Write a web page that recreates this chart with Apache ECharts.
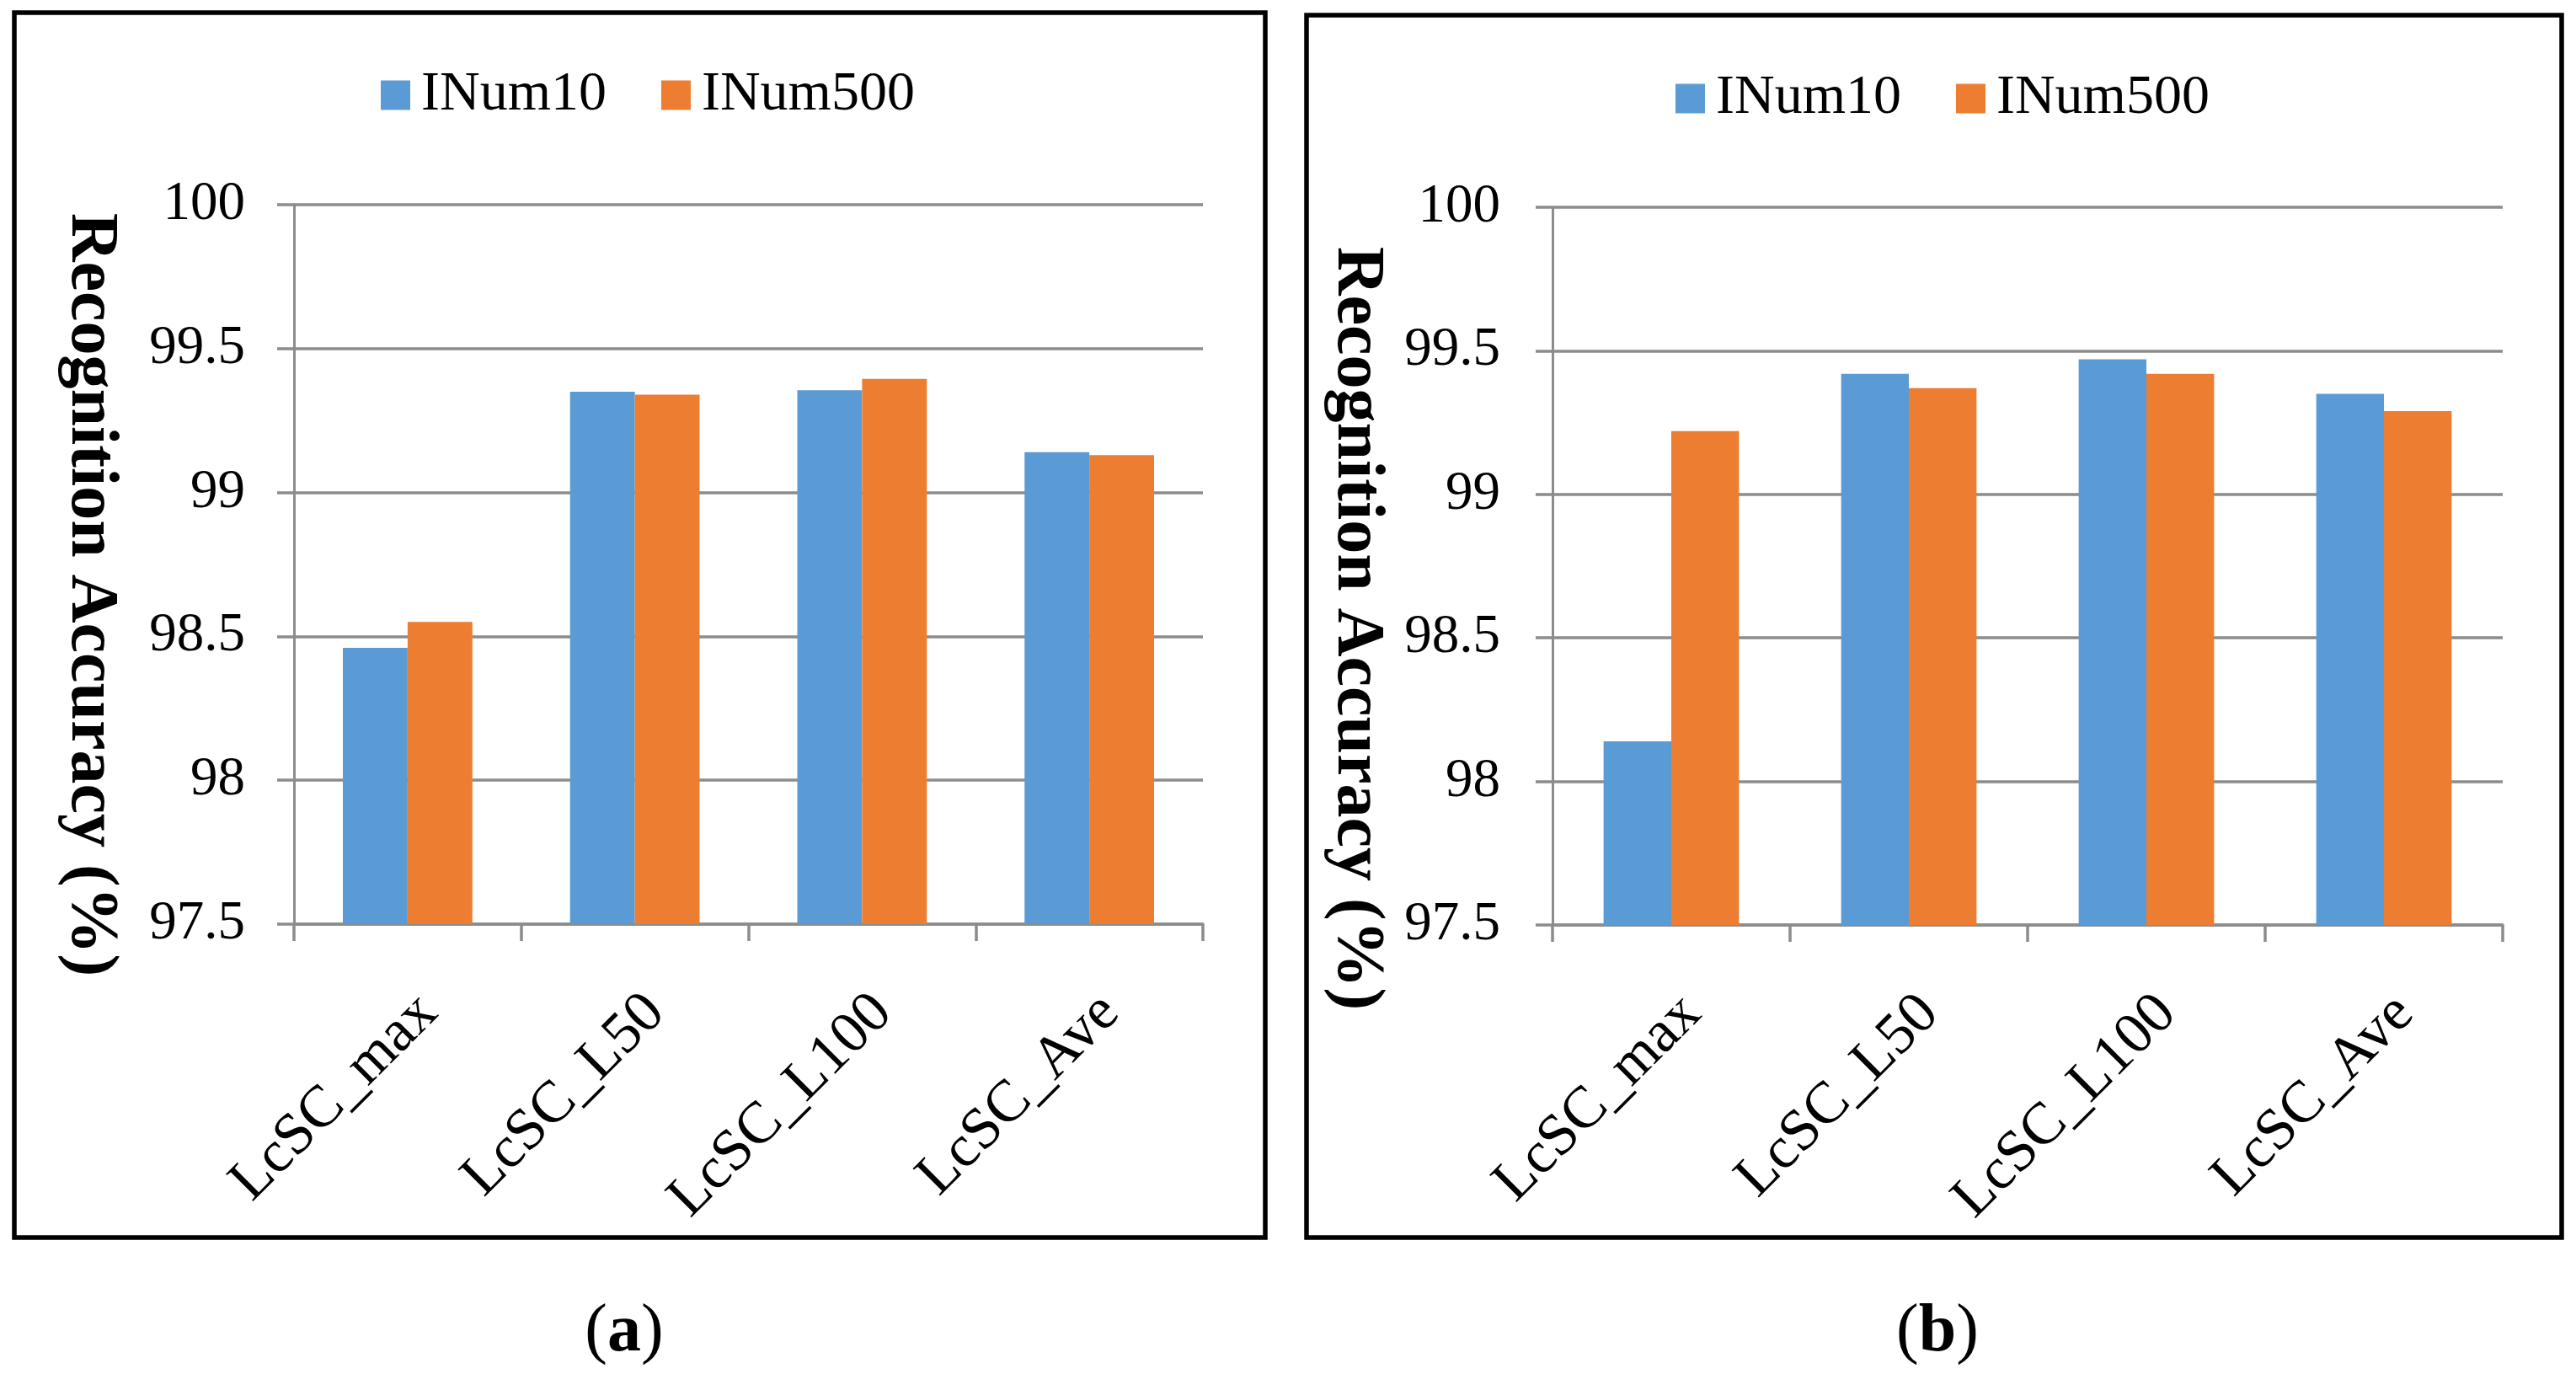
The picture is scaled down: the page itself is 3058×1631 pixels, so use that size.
<!DOCTYPE html>
<html>
<head>
<meta charset="utf-8">
<script src="https://cdn.jsdelivr.net/npm/echarts@6/dist/echarts.min.js"></script>
<style>
  html, body { margin: 0; padding: 0; background: #ffffff; }
  #chart { width: 3058px; height: 1631px; }
</style>
</head>
<body>
<div id="chart"></div>
<script>
const categories = ['LcSC_max', 'LcSC_L50', 'LcSC_L100', 'LcSC_Ave'];
const seriesNames = ['INum10', 'INum500'];
const panelA_INum10 = [98.46, 99.35, 99.355, 99.14];
const panelA_INum500 = [98.55, 99.34, 99.395, 99.13];
const panelB_INum10 = [98.14, 99.42, 99.47, 99.35];
const panelB_INum500 = [99.22, 99.37, 99.42, 99.29];
const yMin = 97.5, yMax = 100, yStep = 0.5;
const yTitle = 'Recognition Accuracy (%)';
const captions = ['a', 'b'];

const FONT = '"Liberation Serif", "Times New Roman", serif';
const GRAY = '#8c8c8c';
const BLUE = '#5b9bd5';
const ORANGE = '#ed7d31';

const chart = echarts.init(document.getElementById('chart'), null, { renderer: 'canvas', width: 3058, height: 1631 });

function xAxisCfg(i) {
  return {
    type: 'category', gridIndex: i, data: categories,
    axisLine: { show: true, lineStyle: { color: GRAY, width: 3.5 } },
    axisTick: { show: true, length: 20, lineStyle: { color: GRAY, width: 3.5 } },
    axisLabel: { interval: 0, rotate: 45, margin: 70, align: 'right', verticalAlign: 'top',
      fontSize: 70, fontFamily: FONT, color: '#000' },
    splitLine: { show: false }
  };
}
function yAxisCfg(i, margin) {
  return {
    type: 'value', gridIndex: i, min: yMin, max: yMax, interval: yStep,
    axisLine: { show: true, lineStyle: { color: GRAY, width: 3 } },
    axisTick: { show: true, length: 20, lineStyle: { color: GRAY, width: 3.5 } },
    splitLine: { show: true, lineStyle: { color: GRAY, width: 3.5 } },
    axisLabel: { margin: margin, fontSize: 65, fontFamily: FONT, color: '#000' }
  };
}
function barSeries(name, data, idx, color) {
  return {
    type: 'bar', name: name, data: data, xAxisIndex: idx, yAxisIndex: idx,
    barGap: '0%', barCategoryGap: '43%',
    itemStyle: { color: color }, animation: false
  };
}
function legendCfg(left, top) {
  return {
    data: seriesNames, left: left, top: top, padding: 0, icon: 'rect',
    itemWidth: 35, itemHeight: 35, itemGap: 65,
    textStyle: { fontSize: 66, fontFamily: FONT, color: '#000', padding: [0, 0, 0, 8] }
  };
}

const option = {
  backgroundColor: '#ffffff',
  animation: false,
  legend: [legendCfg(452, 80), legendCfg(1989, 84)],
  grid: [
    { left: 349, top: 243, width: 1079, height: 854 },
    { left: 1843, top: 246, width: 1128, height: 852 }
  ],
  xAxis: [xAxisCfg(0), xAxisCfg(1)],
  yAxis: [yAxisCfg(0, 58), yAxisCfg(1, 62)],
  series: [
    barSeries(seriesNames[0], panelA_INum10, 0, BLUE),
    barSeries(seriesNames[1], panelA_INum500, 0, ORANGE),
    barSeries(seriesNames[0], panelB_INum10, 1, BLUE),
    barSeries(seriesNames[1], panelB_INum500, 1, ORANGE)
  ],
  graphic: [
    { type: 'rect', shape: { x: 17, y: 15, width: 1485, height: 1454 },
      style: { fill: 'none', stroke: '#000', lineWidth: 5.5 }, silent: true },
    { type: 'rect', shape: { x: 1551, y: 18, width: 1490, height: 1451 },
      style: { fill: 'none', stroke: '#000', lineWidth: 5.5 }, silent: true },
    { type: 'text', x: 107, y: 706, rotation: -Math.PI / 2,
      style: { text: yTitle, font: 'bold 80px ' + FONT, fill: '#000', align: 'center', verticalAlign: 'middle' } },
    { type: 'text', x: 1610, y: 746, rotation: -Math.PI / 2,
      style: { text: yTitle, font: 'bold 80px ' + FONT, fill: '#000', align: 'center', verticalAlign: 'middle' } },
    { type: 'text', x: 741, y: 1582,
      style: { text: '({b|' + captions[0] + '})', font: '80px ' + FONT, fill: '#000', align: 'center', verticalAlign: 'middle',
        rich: { b: { fontWeight: 'bold', fontSize: 80, fontFamily: FONT, fill: '#000' } } } },
    { type: 'text', x: 2300, y: 1582,
      style: { text: '({b|' + captions[1] + '})', font: '80px ' + FONT, fill: '#000', align: 'center', verticalAlign: 'middle',
        rich: { b: { fontWeight: 'bold', fontSize: 80, fontFamily: FONT, fill: '#000' } } } }
  ]
};
chart.setOption(option);
</script>
</body>
</html>
